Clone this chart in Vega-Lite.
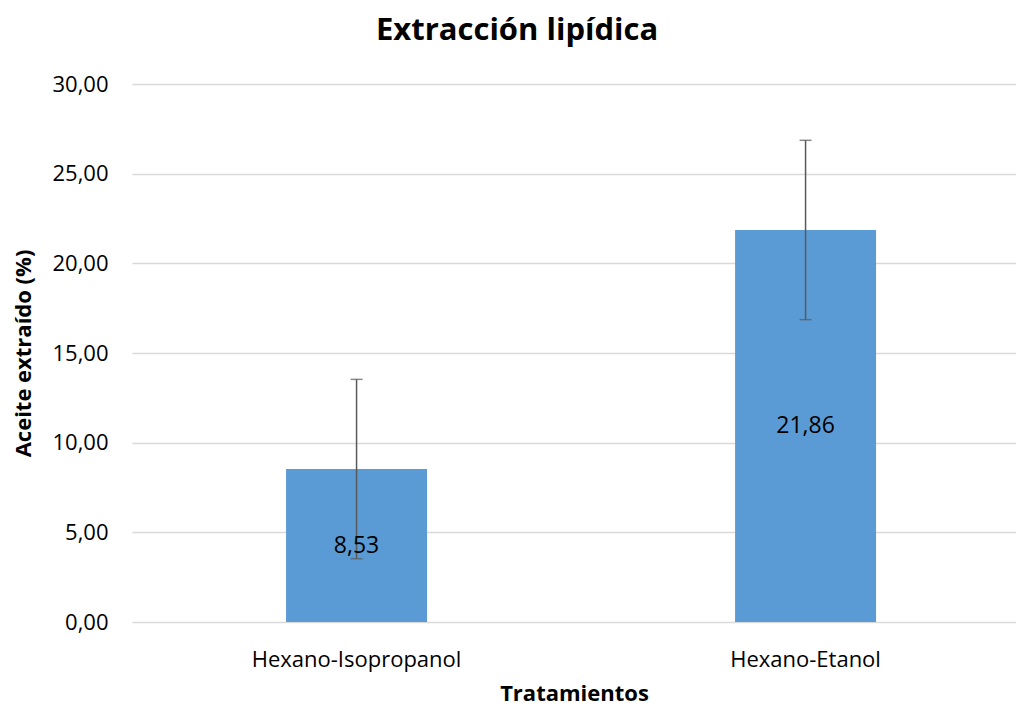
{
  "$schema": "https://vega.github.io/schema/vega-lite/v6.json",
  "autosize": "none",
  "width": 884,
  "height": 538,
  "padding": {"left": 132, "top": 84, "right": 0, "bottom": 85},
  "background": "white",
  "title": {
    "text": "Extracción lipídica",
    "font": "Open Sans",
    "fontSize": 31,
    "fontWeight": "bold",
    "color": "#000000",
    "anchor": "start",
    "frame": "bounds",
    "offset": 26,
    "dx": 363
  },
  "data": {
    "values": [
      {"tratamiento": "Hexano-Isopropanol", "aceite": 8.53, "low": 3.53, "high": 13.53},
      {"tratamiento": "Hexano-Etanol", "aceite": 21.86, "low": 16.86, "high": 26.86}
    ]
  },
  "encoding": {
    "x": {
      "field": "tratamiento",
      "type": "nominal",
      "sort": null,
      "scale": {"paddingInner": 0.686, "paddingOuter": 0.3274, "align": 0.524},
      "axis": {
        "title": "Tratamientos",
        "titleFont": "Open Sans",
        "titleFontSize": 22,
        "titleFontWeight": "bold",
        "titleColor": "#000000",
        "titlePadding": 13,
        "labelFont": "Open Sans",
        "labelFontSize": 22,
        "labelColor": "#000000",
        "labelAngle": 0,
        "labelPadding": 27,
        "labelLimit": 0,
        "domain": false,
        "ticks": false,
        "grid": false
      }
    }
  },
  "layer": [
    {
      "mark": {"type": "bar", "color": "#5B9BD5"},
      "encoding": {
        "y": {
          "field": "aceite",
          "type": "quantitative",
          "scale": {"domain": [0, 30], "nice": false},
          "axis": {
            "title": "Aceite extraído (%)",
            "titleFont": "Open Sans",
            "titleFontSize": 22,
            "titleFontWeight": "bold",
            "titleColor": "#000000",
            "titlePadding": 16,
            "labelFont": "Open Sans",
            "labelFontSize": 22,
            "labelColor": "#000000",
            "labelPadding": 24,
            "format": ".2f",
            "values": [0, 5, 10, 15, 20, 25, 30],
            "domain": false,
            "ticks": false,
            "grid": true,
            "gridColor": "#D9D9D9",
            "gridWidth": 1.5
          }
        }
      }
    },
    {
      "mark": {"type": "rule", "color": "#595959", "strokeWidth": 1.5},
      "encoding": {
        "y": {"field": "low", "type": "quantitative"},
        "y2": {"field": "high"}
      }
    },
    {
      "mark": {"type": "tick", "color": "#595959", "thickness": 1.5, "size": 12, "orient": "horizontal"},
      "encoding": {"y": {"field": "low", "type": "quantitative"}}
    },
    {
      "mark": {"type": "tick", "color": "#595959", "thickness": 1.5, "size": 12, "orient": "horizontal"},
      "encoding": {"y": {"field": "high", "type": "quantitative"}}
    },
    {
      "transform": [{"calculate": "datum.aceite / 2", "as": "mid"}],
      "mark": {"type": "text", "font": "Open Sans", "fontSize": 23, "color": "#000000", "baseline": "middle", "align": "center"},
      "encoding": {
        "y": {"field": "mid", "type": "quantitative"},
        "text": {"field": "aceite", "type": "quantitative", "format": ".2f"}
      }
    }
  ],
  "config": {
    "view": {"stroke": null},
    "locale": {
      "number": {"decimal": ",", "thousands": ".", "grouping": [3], "currency": ["", " €"]}
    }
  }
}
